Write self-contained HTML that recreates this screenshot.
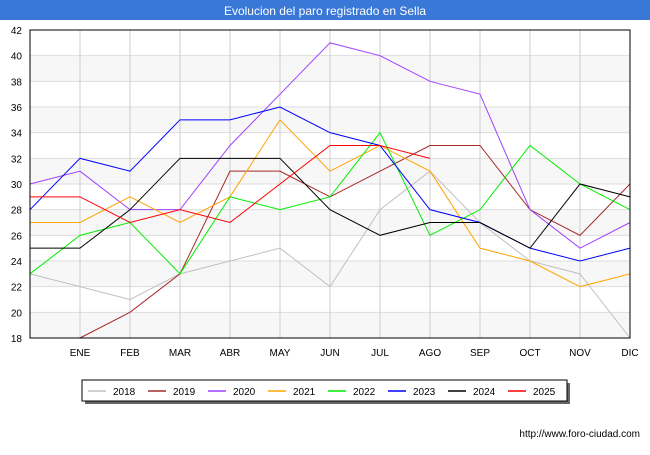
<!DOCTYPE html>
<html><head><meta charset="utf-8"><style>
body{margin:0;background:#fff;font-family:"Liberation Sans",sans-serif}
</style></head><body>
<svg width="650" height="450" id="c">
<rect x="0" y="0" width="650" height="20" fill="#3a78d8"/>
<text x="325" y="15" text-anchor="middle" fill="#fff" font-size="12">Evolucion del paro registrado en Sella</text>
<g id="grid"></g><g id="lines"></g>
<rect x="30" y="30" width="600" height="308" fill="none" stroke="#000"/>
<g id="legend"></g>
<text x="640" y="437" text-anchor="end" font-size="10">http://www.foro-ciudad.com</text>
</svg>
<script>
const months=["","ENE","FEB","MAR","ABR","MAY","JUN","JUL","AGO","SEP","OCT","NOV","DIC"];
const yTicks=[18,20,22,24,26,28,30,32,34,36,38,40,42];
const years=["2018","2019","2020","2021","2022","2023","2024","2025"];
const colors=["#c0c0c0","#a52a2a","#a040ff","#ffa500","#00ee00","#0000ff","#000000","#ff0000"];
const s2018=[23,22,21,23,24,25,22,28,31,27,24,23,18];
const s2019=[null,18,20,23,31,31,29,31,33,33,28,26,30];
const s2020=[30,31,28,28,33,37,41,40,38,37,28,25,27];
const s2021=[27,27,29,27,29,35,31,33,31,25,24,22,23];
const s2022=[23,26,27,23,29,28,29,34,26,28,33,30,28];
const s2023=[28,32,31,35,35,36,34,33,28,27,25,24,25];
const s2024=[25,25,28,32,32,32,28,26,27,27,25,30,29];
const s2025=[29,29,27,28,27,30,33,33,32];
const series=[s2018,s2019,s2020,s2021,s2022,s2023,s2024,s2025];
const NS="http://www.w3.org/2000/svg";
const X=i=>30+i*50, Y=v=>338-(v-18)*308/24;
function el(t,a,p){const e=document.createElementNS(NS,t);for(const k in a)e.setAttribute(k,a[k]);p.appendChild(e);return e;}
const g=document.getElementById('grid');
for(let i=0;i<yTicks.length-1;i+=2){const r=el('rect',{x:30,y:Y(yTicks[i+1]),width:600,height:Y(yTicks[i])-Y(yTicks[i+1]),fill:'#f7f7f7'},g);

}
yTicks.forEach(v=>{const l=el('line',{x1:30,x2:630,y1:Y(v),y2:Y(v),stroke:'#ddd'},g);


const t=el('text',{x:22,y:Y(v)+4,'text-anchor':'end','font-size':10},g);t.textContent=v;

});
months.forEach((m,i)=>{if(i==0)return;const l=el('line',{x1:X(i),x2:X(i),y1:30,y2:338,stroke:'#ccc'},g);


const t=el('text',{x:X(i),y:356,'text-anchor':'middle','font-size':10},g);t.textContent=m;

});
const L=document.getElementById('lines');
series.forEach((s,k)=>{let pts=[];s.forEach((v,i)=>{if(v!=null)pts.push(X(i)+','+Y(v));});
const p=el('polyline',{points:pts.join(' '),fill:'none',stroke:colors[k],'stroke-width':1},L);

});
const lg=document.getElementById('legend');
el('rect',{x:85,y:383,width:485,height:21,fill:'#666'},lg);
el('rect',{x:82,y:380,width:485,height:21,fill:'#fff',stroke:'#000'},lg);
years.forEach((y,k)=>{const x0=88+k*60;
const l=el('line',{x1:x0,x2:x0+18,y1:391,y2:391,stroke:colors[k],'stroke-width':1.5},lg);


const t=el('text',{x:x0+25,y:395,'font-size':10},lg);t.textContent=y;

});
</script>
</body></html>
